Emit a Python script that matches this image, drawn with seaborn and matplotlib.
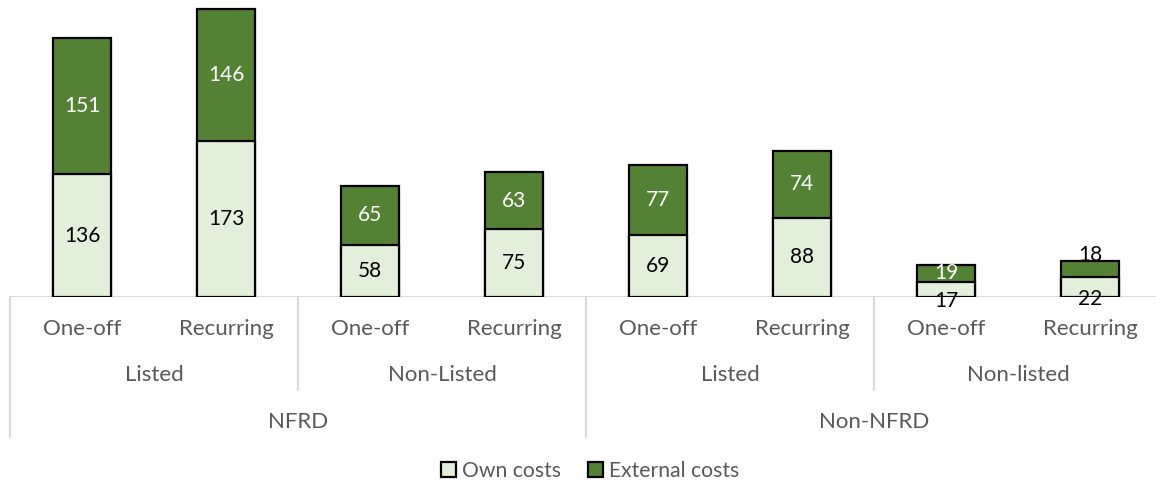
import matplotlib
matplotlib.use("Agg")
import matplotlib.pyplot as plt
import seaborn as sns
import pandas as pd
from matplotlib.patches import Patch
from matplotlib.transforms import blended_transform_factory, offset_copy

# Cost estimates per company group
cost_type = ["One-off", "Recurring"] * 4
listing = ["Listed", "Non-Listed", "Listed", "Non-listed"]
regime = ["NFRD", "Non-NFRD"]
own_costs = [136, 173, 58, 75, 69, 88, 17, 22]
external_costs = [151, 146, 65, 63, 77, 74, 19, 18]

OWN_COLOR = "#E2EFDA"
EXT_COLOR = "#548235"
AXIS_GRAY = "#D9D9D9"
TEXT_GRAY = "#595959"

sns.set_theme(style="white")
plt.rcParams["font.family"] = ["Lato", "DejaVu Sans"]

df = pd.DataFrame({
    "bar": list(range(len(own_costs))),
    "own": own_costs,
    "external": external_costs,
})
df["total"] = df["own"] + df["external"]

W, H = 1156, 487
fig = plt.figure(figsize=(W / 100, H / 100), dpi=100)
ax = fig.add_axes([10 / W, 190 / H, 1152 / W, 297 / H])

bar_kw = dict(edgecolor="black", linewidth=1.6, width=0.4,
              saturation=1, errorbar=None, ax=ax)
sns.barplot(data=df, x="bar", y="total", color=EXT_COLOR, **bar_kw)
sns.barplot(data=df, x="bar", y="own", color=OWN_COLOR, **bar_kw)

ax.set_xlim(-0.5, 7.5)
ax.set_ylim(0, 329)
ax.set_xlabel("")
ax.set_ylabel("")
ax.set_xticks([])
ax.set_yticks([])
for s in ax.spines.values():
    s.set_visible(False)

# Segment value labels
label_fs = 15
for i, row in df.iterrows():
    own, ext, tot = row["own"], row["external"], row["total"]
    # own costs
    if own < 30:
        t = offset_copy(ax.transData, fig=fig, y=-12, units="dots")
    else:
        t = ax.transData
    ax.text(i, own / 2, f"{own}", ha="center", va="center",
            color="black", fontsize=label_fs, transform=t, clip_on=False)
    # external costs
    if ext < 19:
        t = offset_copy(ax.transData, fig=fig, y=6, units="dots")
        ax.text(i, tot, f"{ext}", ha="center", va="center",
                color="black", fontsize=label_fs, transform=t)
    else:
        ax.text(i, own + ext / 2, f"{ext}", ha="center", va="center",
                color="white", fontsize=label_fs)

# Category axis with grouped labels
ax.axhline(0, color=AXIS_GRAY, lw=1.5, zorder=0.5)
tr = blended_transform_factory(ax.transData, ax.transAxes)
row1, row2, row3 = -0.108, -0.263, -0.421
short_sep, long_sep = -0.313, -0.471
axis_fs = 16

for i, name in enumerate(cost_type):
    ax.text(i, row1, name, ha="center", va="center", color=TEXT_GRAY,
            fontsize=axis_fs, transform=tr)
for j, name in enumerate(listing):
    ax.text(2 * j + 0.5, row2, name, ha="center", va="center", color=TEXT_GRAY,
            fontsize=axis_fs, transform=tr)
for k, name in enumerate(regime):
    ax.text(4 * k + 1.5, row3, name, ha="center", va="center", color=TEXT_GRAY,
            fontsize=axis_fs, transform=tr)

for xpos in [-0.5, 3.5, 7.5]:
    ax.plot([xpos, xpos], [0, long_sep], color=AXIS_GRAY, lw=1.5,
            transform=tr, clip_on=False)
for xpos in [1.5, 5.5]:
    ax.plot([xpos, xpos], [0, short_sep], color=AXIS_GRAY, lw=1.5,
            transform=tr, clip_on=False)

handles = [
    Patch(facecolor=OWN_COLOR, edgecolor="black", linewidth=1.6, label="Own costs"),
    Patch(facecolor=EXT_COLOR, edgecolor="black", linewidth=1.6, label="External costs"),
]
leg = fig.legend(handles=handles, loc="center", bbox_to_anchor=(590 / W, 1 - 471 / H),
                 ncol=2, frameon=False, fontsize=15.2, handlelength=0.72,
                 handleheight=0.72, handletextpad=0.25, columnspacing=1.3)
for txt in leg.get_texts():
    txt.set_color(TEXT_GRAY)

fig.savefig("out.png", dpi=100)
